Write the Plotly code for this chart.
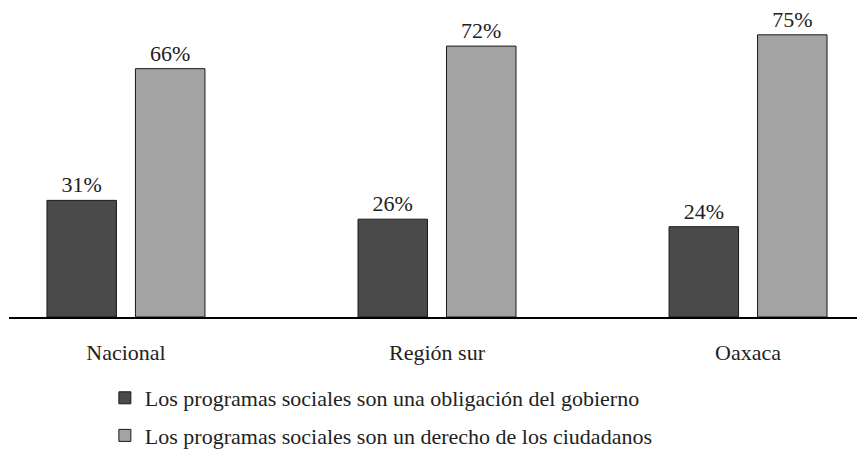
import plotly.graph_objects as go

categories = ["Nacional", "Región sur", "Oaxaca"]
series_names = [
    "Los programas sociales son una obligación del gobierno",
    "Los programas sociales son un derecho de los ciudadanos",
]
obligacion = [31, 26, 24]
derecho = [66, 72, 75]
colors = ["#4a4a4a", "#a3a3a3"]

FONT = "Liberation Serif"

fig = go.Figure()
for i, (name, vals) in enumerate(zip(series_names, [obligacion, derecho])):
    fig.add_trace(go.Bar(
        x=categories, y=vals, name=name,
        marker=dict(color=colors[i], line=dict(color="#1a1a1a", width=1)),
        text=[f"{v}%" for v in vals], textposition="outside",
        textfont=dict(family=FONT, size=22, color="#222"),
        cliponaxis=False,
        legendgroup=f"g{i}",
    ))

fig.update_layout(
    width=865, height=449,
    margin=dict(l=1, r=8, t=8.2, b=140, autoexpand=False),
    paper_bgcolor="white", plot_bgcolor="white",
    barmode="group", bargap=0.431, bargroupgap=0.2147,
    font=dict(family=FONT, size=22, color="#222"),
    showlegend=True,
    legend=dict(
        orientation="v", traceorder="grouped", tracegroupgap=6,
        xref="paper", x=0.112, xanchor="left",
        yref="container", y=1 - 369 / 449, yanchor="top",
        font=dict(family=FONT, size=22, color="#222"),
        bgcolor="rgba(0,0,0,0)",
    ),
)
fig.update_xaxes(
    range=[-0.376, 2.376], showline=True, linecolor="black", linewidth=1.5,
    ticks="", showgrid=False, zeroline=False, ticklabelstandoff=15,
    tickfont=dict(family=FONT, size=22, color="#222"),
)
fig.update_yaxes(range=[0, 80], visible=False, showgrid=False, zeroline=False)

fig.write_html("out.html")
